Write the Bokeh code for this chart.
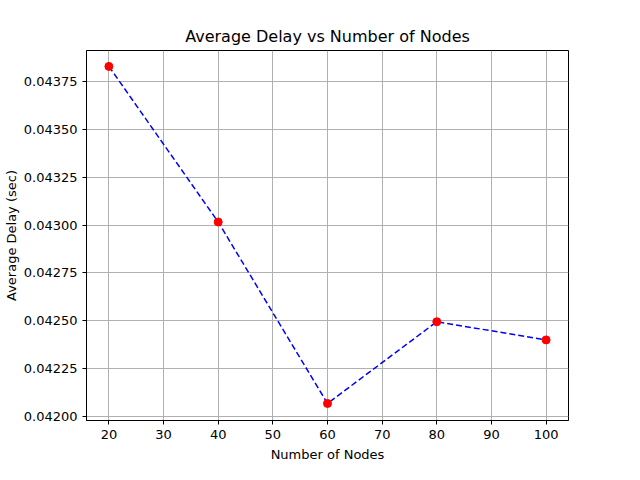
from bokeh.plotting import figure
from bokeh.models import Range1d, FixedTicker, NumeralTickFormatter
from bokeh.embed import file_html
from bokeh.resources import INLINE

nodes = [20, 40, 60, 80, 100]
delay = [0.043829, 0.043016, 0.042068, 0.042495, 0.042400]

p = figure(width=624, height=464, output_backend="svg", toolbar_location=None,
           x_range=Range1d(15.9, 104.1), y_range=Range1d(0.041979, 0.043912),
           min_border_left=72, min_border_right=56, min_border_top=50, min_border_bottom=42,
           title="Average Delay vs Number of Nodes")
p.title.align = "center"
p.title.text_font = "DejaVu Sans"
p.title.text_font_size = "16px"
p.title.text_font_style = "normal"
p.title.text_color = "black"

p.line(nodes, delay, line_color="blue", line_dash="6 3", line_width=1.5)
p.scatter(nodes, delay, size=8, color="red")

p.xaxis.ticker = FixedTicker(ticks=list(range(20, 101, 10)))
p.yaxis.ticker = FixedTicker(ticks=[0.042 + 0.00025 * i for i in range(8)])
p.yaxis.formatter = NumeralTickFormatter(format="0.00000")
p.xaxis.axis_label = "Number of Nodes"
p.yaxis.axis_label = "Average Delay (sec)"
for ax in (p.xaxis, p.yaxis):
    ax.axis_label_text_font = "DejaVu Sans"
    ax.axis_label_text_font_size = "13px"
    ax.axis_label_text_font_style = "normal"
    ax.axis_label_text_color = "black"
    ax.major_label_text_font = "DejaVu Sans"
    ax.major_label_text_font_size = "13px"
    ax.major_label_text_color = "black"
    ax.minor_tick_line_color = None
    ax.major_tick_in = 0
    ax.major_tick_out = 4
    ax.axis_line_color = "black"
p.yaxis.axis_label_standoff = 2
p.grid.grid_line_color = "#b0b0b0"
p.grid.grid_line_alpha = 1.0
p.outline_line_color = "black"

open("out.html", "w").write(file_html(p, INLINE))
